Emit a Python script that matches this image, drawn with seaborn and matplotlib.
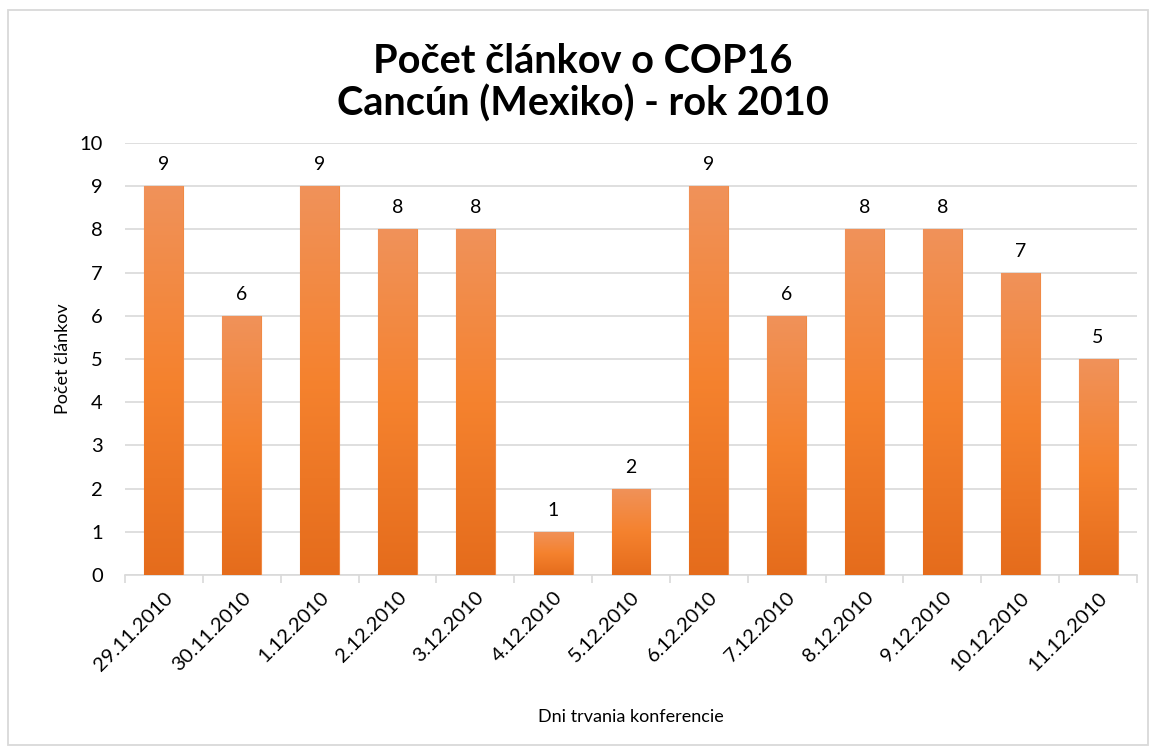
import numpy as np
import pandas as pd
import matplotlib
matplotlib.use("Agg")
import matplotlib.pyplot as plt
from matplotlib.colors import LinearSegmentedColormap
from matplotlib.patches import Rectangle
import seaborn as sns

dates = ["29.11.2010", "30.11.2010", "1.12.2010", "2.12.2010", "3.12.2010",
         "4.12.2010", "5.12.2010", "6.12.2010", "7.12.2010", "8.12.2010",
         "9.12.2010", "10.12.2010", "11.12.2010"]
counts = [9, 6, 9, 8, 8, 1, 2, 9, 6, 8, 8, 7, 5]
y_ticks = [0, 1, 2, 3, 4, 5, 6, 7, 8, 9, 10]

title = "Počet článkov o COP16\nCancún (Mexiko) - rok 2010"
xlabel = "Dni trvania konferencie"
ylabel = "Počet článkov"

sns.set_theme(style="white")
plt.rcParams['font.family'] = ['Lato', 'DejaVu Sans']
plt.rcParams.update({"text.color": "black", "axes.labelcolor": "black",
                     "xtick.color": "black", "ytick.color": "black"})

df = pd.DataFrame({"date": dates, "count": counts})

fig = plt.figure(figsize=(11.54, 7.51), dpi=100)
# outer border
fig.patches.append(Rectangle((8/1154, 6/751), 1140/1154, 735/751, transform=fig.transFigure,
                             fill=False, edgecolor="#D9D9D9", linewidth=1.3))
ax = fig.add_axes([125/1154, 1-575/751, 1012/1154, 432/751])

sns.barplot(data=df, x="date", y="count", ax=ax, color="#F5812F", width=0.5,
            edgecolor="#F08A45", linewidth=0.8, zorder=3)

cmap = LinearSegmentedColormap.from_list("g", ["#E56C1C", "#F5822E", "#F0925A"])
grad = np.linspace(0, 1, 256).reshape(-1, 1)
for p in ax.patches:
    x0, y0 = p.get_x(), p.get_y()
    w, h = p.get_width(), p.get_height()
    im = ax.imshow(grad, cmap=cmap, origin="lower", aspect="auto",
                   extent=[x0, x0 + w, y0, y0 + h], zorder=3.5)
    im.set_clip_path(p)
    ax.text(x0 + w / 2, h + 0.3, f"{int(h)}", ha="center", va="bottom",
            fontsize=14, color="black", zorder=5)

ax.set_xlim(-0.5, len(dates) - 0.5)
ax.set_ylim(0, 10)
ax.set_yticks(y_ticks)
ax.set_yticklabels([str(t) for t in y_ticks], fontsize=14.5, color="black")
ax.yaxis.grid(True, color="#D9D9D9", linewidth=1.2, zorder=0)
ax.set_axisbelow(True)

ax.set_xticks(range(len(dates)))
ax.set_xticklabels(dates, rotation=45, ha="right", rotation_mode="anchor",
                   fontsize=14.5, color="black")
ax.tick_params(axis="x", length=0, pad=10)
ax.tick_params(axis="y", length=0, pad=16)
ax.set_xticks(np.arange(-0.5, len(dates)), minor=True)
ax.tick_params(axis="x", which="minor", length=6, color="#D9D9D9", width=1.2, bottom=True)

for s in ["top", "right", "left"]:
    ax.spines[s].set_visible(False)
ax.spines["bottom"].set_color("#D9D9D9")
ax.spines["bottom"].set_linewidth(1.2)

ax.set_xlabel(xlabel, fontsize=13, labelpad=25, color="black")
ax.set_ylabel(ylabel, fontsize=13, labelpad=6, color="black")
fig.text(0.505, 1-83/751, title, ha="center", va="center", fontsize=28.5,
         fontweight="bold", linespacing=1.15, color="black")

fig.savefig("out.png", dpi=100, facecolor="white")
